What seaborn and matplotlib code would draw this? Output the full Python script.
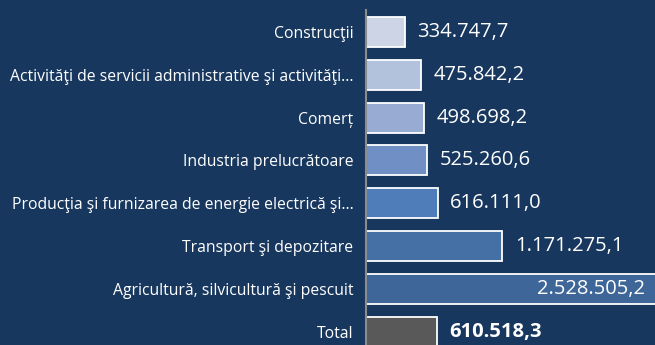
import matplotlib
matplotlib.use("Agg")
import matplotlib.pyplot as plt
import seaborn as sns
import pandas as pd

categories = [
    "Construcţii",
    "Activităţi de servicii administrative şi activităţi...",
    "Comerț",
    "Industria prelucrătoare",
    "Producţia şi furnizarea de energie electrică şi...",
    "Transport şi depozitare",
    "Agricultură, silvicultură şi pescuit",
    "Total",
]
values = [334747.7, 475842.2, 498698.2, 525260.6, 616111.0, 1171275.1, 2528505.2, 610518.3]
value_labels = ["334.747,7", "475.842,2", "498.698,2", "525.260,6",
                "616.111,0", "1.171.275,1", "2.528.505,2", "610.518,3"]
bar_colors = ["#ccd4e6", "#b2c1dc", "#97abd3", "#6f8fc5",
              "#4e7dba", "#4570a6", "#3e6698", "#595959"]

BG = "#17375e"

sns.set_theme(style="white")
plt.rcParams["font.family"] = ["Open Sans", "DejaVu Sans"]

df = pd.DataFrame({"cat": categories, "val": values})

fig = plt.figure(figsize=(6.55, 3.45), dpi=100, facecolor=BG)
ax = fig.add_axes([366 / 655, 0.0, 289 / 655, 335 / 345])
ax.set_facecolor(BG)

sns.barplot(data=df, y="cat", x="val", hue="cat", palette=bar_colors,
            saturation=1, legend=False, orient="h", width=0.7, ax=ax,
            edgecolor="white", linewidth=1.3)

ax.set_xlim(0, 2.48e6)
ax.set_ylim(7.31, -0.514)
ax.set_xlabel("")
ax.set_ylabel("")
ax.set_xticks([])
ax.tick_params(axis="y", length=0, pad=9, labelsize=11.3, labelcolor="white")

for s in ["top", "right", "bottom"]:
    ax.spines[s].set_visible(False)
ax.spines["left"].set_color("#8c8c8c")
ax.spines["left"].set_linewidth(1.5)

xmax = ax.get_xlim()[1]
for i, (v, lab) in enumerate(zip(values, value_labels)):
    bold = categories[i] == "Total"
    if v > xmax:
        ax.text(xmax * 0.965, i, lab, ha="right", va="center", color="white",
                fontsize=14.5)
    else:
        ax.annotate(lab, (v, i), xytext=(9, 0), textcoords="offset points",
                    ha="left", va="center", color="white", fontsize=14.5,
                    fontweight="bold" if bold else "normal")

fig.savefig("out.png", dpi=100, facecolor=BG)
